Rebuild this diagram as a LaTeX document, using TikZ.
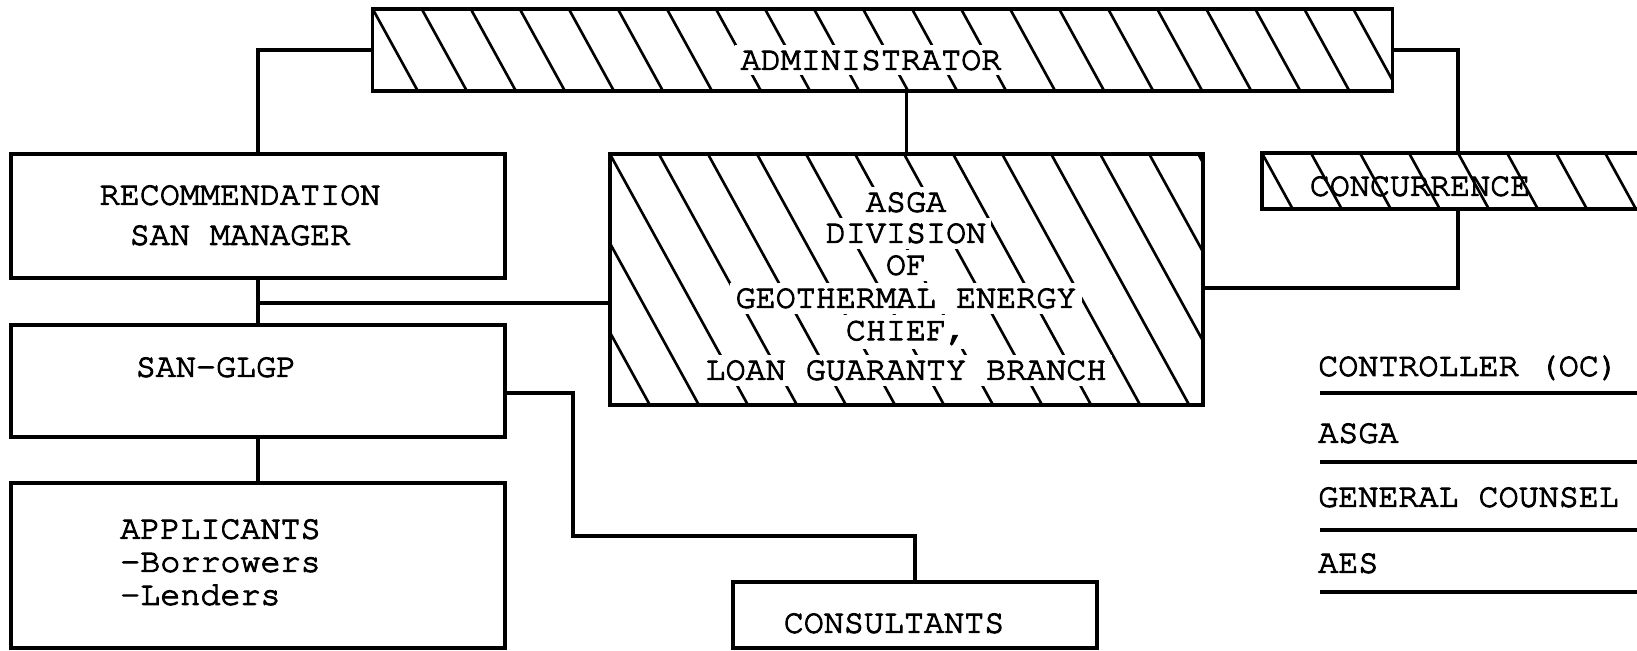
\documentclass[tikz,border=0pt]{standalone}
\usepackage[T1]{fontenc}
\usepackage{courier}
\usepackage{tikz}
\usetikzlibrary{calc, positioning}
\def\hatchsep{0.49cm}
\def\typefont{\fontsize{9.5}{9.4}\selectfont\ttfamily}
\tikzstyle{box}=[draw, line width=1pt, inner sep=0pt]
\tikzstyle{hatch}=[line width=0.75pt]
\tikzstyle{hatched box}=[box, path picture={
	\foreach \k in {-6,...,22}
	\draw[hatch] ([xshift={\k*\hatchsep}]path picture bounding box.north west) -- ++(1.65cm,-3cm);
}]
\tikzstyle{link}=[line width=0.9pt]
\tikzstyle{tag}=[font=\typefont, inner sep=1pt,
	execute at begin node={\special{pdf:literal direct 2 Tr 0.3 w}},
	execute at end node={\special{pdf:literal direct 0 Tr}}]
\tikzstyle{masked tag}=[tag, fill=white, inner sep=1.5pt]
\tikzstyle{rule}=[line width=1.1pt]

\begin{document}
\begin{tikzpicture}[x=0.01cm, y=-0.01cm]
	\useasboundingbox (0,0) rectangle (1637,650);
	\clip (0,0) rectangle (1637,650);
	\fill[white] (0,0) rectangle (1637,650);

	% Draw the boxes
	\node[hatched box, minimum width=10.19cm, minimum height=0.82cm] (admin) at (882.5,50) {};
	\node[box, minimum width=4.94cm, minimum height=1.24cm] (rec) at (258,216) {};
	\node[hatched box, minimum width=5.93cm, minimum height=2.51cm] (asga) at (906.5,279.5) {};
	\node[hatched box, minimum width=3.92cm, minimum height=0.56cm] (conc) at (1458,181) {};
	\node[box, minimum width=4.94cm, minimum height=1.12cm] (glgp) at (258,381) {};
	\node[box, minimum width=4.94cm, minimum height=1.65cm] (appl) at (258,565.5) {};
	\node[box, minimum width=3.64cm, minimum height=0.66cm] (cons) at (915,615) {};

	% Write the box texts
	\node[masked tag] (admin-t) at (871,60) {ADMINISTRATOR};
	\node[tag, align=center] (rec-t) at (240,215) {RECOMMENDATION\\[2pt]SAN MANAGER};
	\foreach \txt/\y [count=\i] in {ASGA/202, DIVISION/233, OF/265, GEOTHERMAL ENERGY/298, {CHIEF,}/332, LOAN GUARANTY BRANCH/370}
	\node[masked tag] (asga-\i) at (906,\y) {\txt};
	\node[tag] (conc-t) at (1420,186) {CONCURRENCE};
	\node[tag] (glgp-t) at (216,367) {SAN-GLGP};
	\node[tag, align=left, anchor=west] (appl-t) at (116,562) {APPLICANTS\\-Borrowers\\-Lenders};
	\node[tag] (cons-t) at (894,623) {CONSULTANTS};

	% Sign-off list on the right
	\foreach \txt/\y [count=\i] in {CONTROLLER (OC)/367, ASGA/433, GENERAL COUNSEL/497, AES/563}
	\node[tag, anchor=west] (sign-\i) at (1314,\y) {\txt};
	\foreach \y in {393,462,530,592}
	\draw[rule] (1320,\y) -- (1660,\y);

	% Connect the boxes
	\draw[link] (admin.west) -| (rec.north);
	\draw[link] (asga.north) -- (asga.north |- admin.south);
	\draw[link] (admin.east) -| (conc.north);
	\draw[link] (conc.south) |- ([yshift=-0.085cm]asga.east);
	\draw[link] (rec.south) -- (glgp.north);
	\coordinate (tap) at ([yshift=-0.235cm]asga.west);
	\draw[link] (tap) -- (tap -| rec.south);
	\draw[link] (glgp.south) -- (appl.north);
	\coordinate (bend) at (573,536);
	\draw[link] ([yshift=-0.12cm]glgp.east) -| (bend) -| (cons.north);
\end{tikzpicture}
\end{document}
